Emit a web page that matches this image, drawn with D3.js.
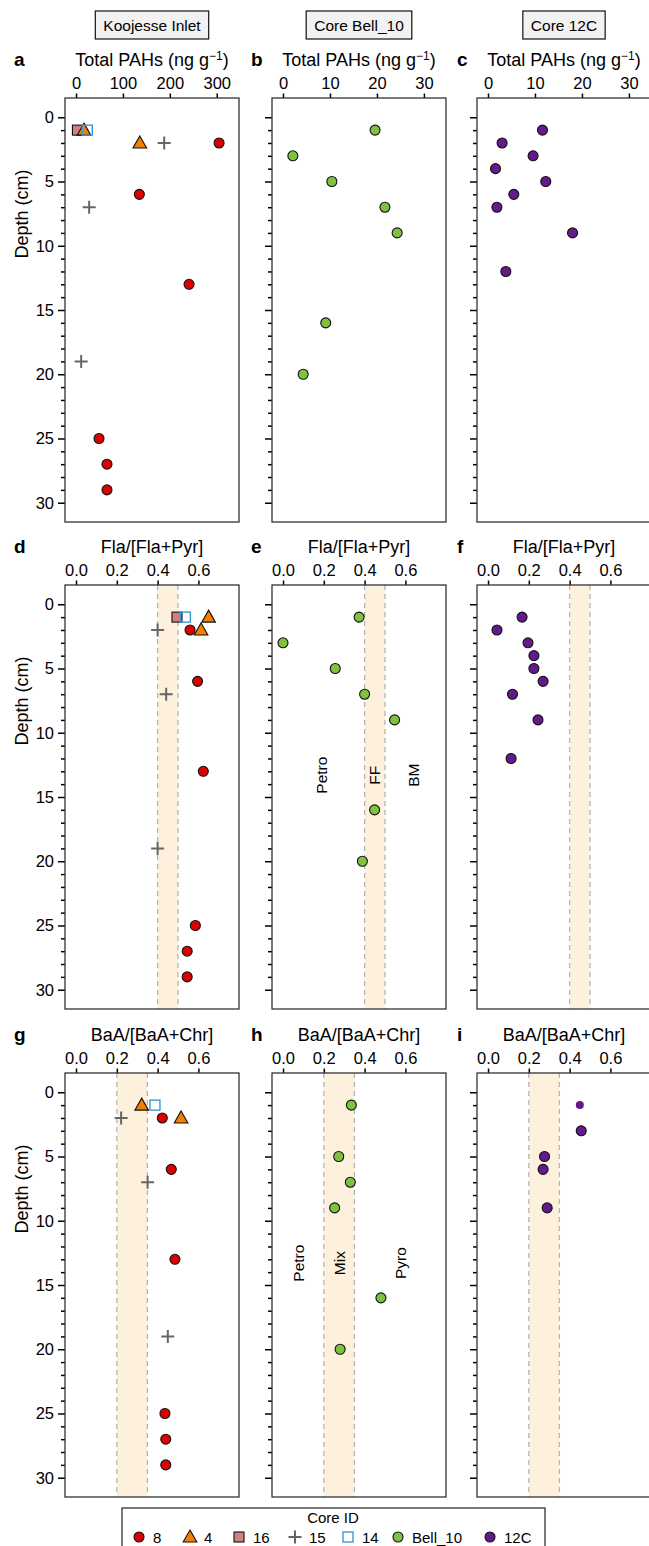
<!DOCTYPE html>
<html lang="en">
<head>
<meta charset="UTF-8">
<title>PAH depth profiles</title>
<script src="https://cdn.jsdelivr.net/npm/d3@7"></script>
<style>
    body { margin: 0; background: #ffffff; }
    text { font-family: "Liberation Sans", Arial, sans-serif; fill: #000; }
    .frame { fill: none; stroke: #333; stroke-width: 1.3; }
    .axis path { display: none; }
    .axis line { stroke: #000; stroke-width: 1.5; }
    .axis text { font-size: 16.5px; }
</style>
</head>
<body>
<div id="main"></div>
<script>
// ---- data ----
// core 8
const depth8 = [2, 6, 13, 25, 27, 29];
const total8 = [305, 135, 241, 49, 66, 66];
const fla8 = [0.559, 0.596, 0.624, 0.585, 0.545, 0.545];
const baa8 = [0.423, 0.467, 0.485, 0.436, 0.44, 0.44];
// core 4
const depth4 = [1, 2];
const total4 = [17, 136];
const fla4 = [0.65, 0.613];
const baa4 = [0.322, 0.515];
// core 16
const depth16 = [1];
const total16 = [3];
const fla16 = [0.495];
const baa16 = [null];
// core 15
const depth15 = [2, 7, 19];
const total15 = [188, 28, 11];
const fla15 = [0.40, 0.442, 0.40];
const baa15 = [0.221, 0.351, 0.45];
// core 14
const depth14 = [1];
const total14 = [24];
const fla14 = [0.536];
const baa14 = [0.387];
// Bell_10
const depthBell = [1, 3, 5, 7, 9, 16, 20];
const totalBell = [19.6, 2.1, 10.4, 21.7, 24.3, 9.1, 4.3];
const flaBell = [0.373, 0.0, 0.256, 0.40, 0.547, 0.449, 0.389];
const baaBell = [0.335, null, 0.273, 0.33, 0.253, 0.48, 0.28];
// 12C
const depth12C = [1, 2, 3, 4, 5, 6, 7, 9, 12];
const total12C = [11.6, 3.0, 9.6, 1.6, 12.3, 5.5, 1.9, 18.0, 3.8];
const fla12C = [0.167, 0.044, 0.196, 0.225, 0.225, 0.27, 0.12, 0.245, 0.113];
const baa12C = [0.45, null, 0.457, null, 0.277, 0.27, null, 0.29, null];

const siteNames = ['Koojesse Inlet', 'Core Bell_10', 'Core 12C'];
const panelLetters = ['a', 'b', 'c', 'd', 'e', 'f', 'g', 'h', 'i'];
const rowTitles = ['Total PAHs (ng g', 'Fla/[Fla+Pyr]', 'BaA/[BaA+Chr]'];
const ticksTotalKI = [0, 100, 200, 300];
const ticksTotal = [0, 10, 20, 30];
const ticksRatio = [0, 0.2, 0.4, 0.6];
const depthMajor = [0, 5, 10, 15, 20, 25, 30];
const flaBand = [0.4, 0.5];
const baaBand = [0.2, 0.35];
const flaZones = ['Petro', 'FF', 'BM'];
const flaZoneX = [0.19, 0.45, 0.64];
const baaZones = ['Petro', 'Mix', 'Pyro'];
const baaZoneX = [0.08, 0.278, 0.58];
const zoneDepth = 13.3;

const legendIds = ['8', '4', '16', '15', '14', 'Bell_10', '12C'];

// ---- styling per core ----
const coreStyle = {
    '8':       {shape: 'circle',   fill: '#dc0000'},
    '4':       {shape: 'triangle', fill: '#f77f00'},
    '16':      {shape: 'square',   fill: '#d08080'},
    '15':      {shape: 'cross',    fill: '#666666'},
    '14':      {shape: 'open',     fill: '#3d9ad1'},
    'Bell_10': {shape: 'circle',   fill: '#7fc241'},
    '12C':     {shape: 'circle',   fill: '#651a8c'}
};

const zip = (id, dep, vals) => dep.map((d, i) => ({id, depth: d, v: vals[i], i}))
    .filter(p => p.v !== null);

// series per column / row (draw order 16 first so the triangle sits on top)
const kiTotal = [].concat(zip('16', depth16, total16), zip('8', depth8, total8), zip('4', depth4, total4),
    zip('15', depth15, total15), zip('14', depth14, total14));
const kiFla = [].concat(zip('16', depth16, fla16), zip('8', depth8, fla8), zip('4', depth4, fla4),
    zip('15', depth15, fla15), zip('14', depth14, fla14));
const kiBaa = [].concat(zip('16', depth16, baa16), zip('8', depth8, baa8), zip('4', depth4, baa4),
    zip('15', depth15, baa15), zip('14', depth14, baa14));

const panels = [
    {data: kiTotal, xd: [-23.5, 347.5], ticks: ticksTotalKI, fmt: d3.format('d')},
    {data: zip('Bell_10', depthBell, totalBell), xd: [-2.34, 34.7], ticks: ticksTotal, fmt: d3.format('d')},
    {data: zip('12C', depth12C, total12C), xd: [-2.34, 34.7], ticks: ticksTotal, fmt: d3.format('d')},
    {data: kiFla, xd: [-0.054, 0.799], ticks: ticksRatio, fmt: d3.format('.1f'), band: flaBand},
    {data: zip('Bell_10', depthBell, flaBell), xd: [-0.054, 0.799], ticks: ticksRatio, fmt: d3.format('.1f'), band: flaBand,
        zones: flaZones, zoneX: flaZoneX},
    {data: zip('12C', depth12C, fla12C), xd: [-0.054, 0.799], ticks: ticksRatio, fmt: d3.format('.1f'), band: flaBand},
    {data: kiBaa, xd: [-0.054, 0.799], ticks: ticksRatio, fmt: d3.format('.1f'), band: baaBand},
    {data: zip('Bell_10', depthBell, baaBell), xd: [-0.054, 0.799], ticks: ticksRatio, fmt: d3.format('.1f'), band: baaBand,
        zones: baaZones, zoneX: baaZoneX},
    {data: zip('12C', depth12C, baa12C), xd: [-0.054, 0.799], ticks: ticksRatio, fmt: d3.format('.1f'), band: baaBand}
];

// ---- layout ----
const W = 649, H = 1546;
const colLeft = [65, 272, 477];
const rowTop = [98, 585, 1073];
const letterX = [14, 251, 457];
const pw = 174, ph = 424;

const svg = d3.select('#main').append('svg')
    .attr('width', W).attr('height', H);

// marker drawer
function drawMarker(g, id, small) {
    const st = coreStyle[id];
    if (st.shape === 'circle') {
        g.append('circle').attr('r', small ? 4 : 5)
            .attr('fill', st.fill)
            .attr('stroke', small ? 'none' : '#111').attr('stroke-width', 1.1);
    } else if (st.shape === 'triangle') {
        g.append('path').attr('d', 'M0,-7L6.8,5L-6.8,5Z')
            .attr('fill', st.fill).attr('stroke', '#111').attr('stroke-width', 1.1);
    } else if (st.shape === 'square') {
        g.append('rect').attr('x', -5).attr('y', -5).attr('width', 10).attr('height', 10)
            .attr('fill', st.fill).attr('stroke', '#111').attr('stroke-width', 1.1);
    } else if (st.shape === 'open') {
        g.append('rect').attr('x', -5).attr('y', -5).attr('width', 10).attr('height', 10)
            .attr('fill', 'none').attr('stroke', st.fill).attr('stroke-width', 1.4);
    } else if (st.shape === 'cross') {
        g.append('path').attr('d', 'M-6.5,0H6.5M0,-6.5V6.5')
            .attr('stroke', st.fill).attr('stroke-width', 2).attr('fill', 'none');
    }
}

// column headers
siteNames.forEach((name, c) => {
    const cx = colLeft[c] + pw / 2;
    const hg = svg.append('g');
    const t = hg.append('text').attr('x', cx).attr('y', 31)
        .attr('text-anchor', 'middle').style('font-size', '15.5px').text(name);
    const tw = t.node().getComputedTextLength();
    hg.insert('rect', 'text')
        .attr('x', cx - tw / 2 - 8).attr('y', 11)
        .attr('width', tw + 16).attr('height', 28)
        .attr('fill', '#f2f2f2').attr('stroke', '#111').attr('stroke-width', 1.2);
});

panels.forEach((p, k) => {
    const row = Math.floor(k / 3), col = k % 3;
    const left = colLeft[col], top = rowTop[row];
    const g = svg.append('g').attr('transform', `translate(${left},${top})`);

    const x = d3.scaleLinear().domain(p.xd).range([0, pw]);
    const y = d3.scaleLinear().domain([-1.5, 31.5]).range([0, ph]);

    g.append('rect').attr('width', pw).attr('height', ph).attr('fill', '#fff');

    // reference band
    if (p.band) {
        g.append('rect')
            .attr('x', x(p.band[0])).attr('y', 0)
            .attr('width', x(p.band[1]) - x(p.band[0])).attr('height', ph)
            .attr('fill', '#fdf0dd');
        p.band.forEach(b => {
            g.append('line').attr('x1', x(b)).attr('x2', x(b)).attr('y1', 0).attr('y2', ph)
                .attr('stroke', '#b5b5b5').attr('stroke-width', 1.3).attr('stroke-dasharray', '5,4');
        });
    }

    // zone labels
    if (p.zones) {
        p.zones.forEach((z, i) => {
            g.append('text')
                .attr('transform', `translate(${x(p.zoneX[i]) + 5},${y(zoneDepth)}) rotate(-90)`)
                .attr('text-anchor', 'middle').style('font-size', '15.5px').text(z);
        });
    }

    // top x axis
    g.append('g').attr('class', 'axis')
        .call(d3.axisTop(x).tickValues(p.ticks).tickSize(4.5).tickPadding(5).tickFormat(p.fmt));

    // left y axis: majors + minors
    const minors = d3.range(0, 31).filter(v => v % 5 !== 0);
    g.append('g').attr('class', 'axis')
        .call(d3.axisLeft(y).tickValues(minors).tickSize(4).tickFormat(''));
    g.append('g').attr('class', 'axis')
        .call(d3.axisLeft(y).tickValues(depthMajor).tickSize(7).tickPadding(4)
            .tickFormat(col === 0 ? d3.format('d') : ''));

    // points
    const pts = g.selectAll('g.pt').data(p.data).enter().append('g')
        .attr('class', 'pt')
        .attr('transform', d => `translate(${x(d.v)},${y(d.depth)})`);
    pts.each(function (d) {
        drawMarker(d3.select(this), d.id, k === 8 && d.i === 0);
    });

    g.append('rect').attr('class', 'frame').attr('width', pw).attr('height', ph);

    // panel letter and title
    svg.append('text').attr('x', letterX[col]).attr('y', top - 32)
        .style('font-size', '19px').style('font-weight', 'bold').text(panelLetters[k]);
    const tt = svg.append('text').attr('x', left + pw / 2).attr('y', top - 32)
        .attr('text-anchor', 'middle').style('font-size', '18px');
    if (row === 0) {
        tt.append('tspan').text(rowTitles[0]);
        tt.append('tspan').attr('dy', -6).style('font-size', '12px').text('\u22121');
        tt.append('tspan').attr('dy', 6).text(')');
    } else {
        tt.text(rowTitles[row]);
    }

    if (col === 0) {
        svg.append('text')
            .attr('transform', `translate(28,${top + 116}) rotate(-90)`)
            .attr('text-anchor', 'middle').style('font-size', '18px').text('Depth (cm)');
    }
});

// ---- legend ----
const lg = svg.append('g');
lg.append('rect').attr('x', 122).attr('y', 1508).attr('width', 423).attr('height', 60)
    .attr('fill', '#fff').attr('stroke', '#222').attr('stroke-width', 1.2);
lg.append('text').attr('x', 333).attr('y', 1523).attr('text-anchor', 'middle')
    .style('font-size', '15px').text('Core ID');
const legX = [139, 190, 239, 295, 348, 398, 490];
legendIds.forEach((id, i) => {
    const it = lg.append('g').attr('transform', `translate(${legX[i]},1537)`);
    drawMarker(it, id, false);
    it.append('text').attr('x', 14).attr('y', 5.5).style('font-size', '15px').text(id);
});
</script>
</body>
</html>
